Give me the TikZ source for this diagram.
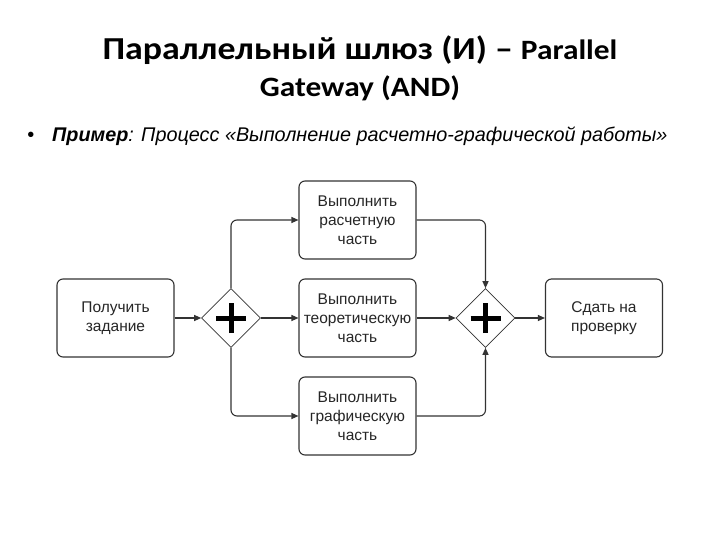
\documentclass[tikz,border=0pt]{standalone}
\usepackage{fontspec}
\setmainfont{Liberation Sans}
\newfontfamily\titlefont{Carlito}
\newfontfamily\arialfont{Liberation Sans}
\usetikzlibrary{shapes.geometric,arrows.meta,positioning}
\definecolor{linegray}{HTML}{333333}
\tikzset{
  taskbox/.style={draw=linegray, line width=1.1pt, rounded corners=6pt, minimum width=117pt, minimum height=78pt, align=center, inner sep=1pt, font=\arialfont\fontsize{15.5}{19}\selectfont, text=black!85},
  gate/.style={draw=linegray, line width=0.6pt, diamond, aspect=1, minimum size=59pt, inner sep=0pt},
  flow/.style={draw=linegray, line width=1.1pt, rounded corners=6pt, -{Triangle[length=7pt,width=6pt]}},
  plusbar/.style={line width=5pt, black},
  titletext/.style={font=\titlefont\bfseries, anchor=base, xscale=1.12, inner sep=0pt}
}
\begin{document}
\begin{tikzpicture}[x=1pt,y=-1pt]
\useasboundingbox (0,0) rectangle (720,540);
\fill[white] (0,0) rectangle (720,540);
% title
\node[titletext] (t1) at (360,60) {{\fontsize{32}{38}\selectfont Параллельный шлюз (И) – }{\fontsize{28}{34}\selectfont Parallel}};
\node[titletext] (t2) at (360,97) {\fontsize{28}{34}\selectfont Gateway (AND)};
% bullet
\node[font=\arialfont\fontsize{20}{24}\selectfont, anchor=base] (bul) at (31,142) {•};
\node[font=\arialfont\itshape\fontsize{19.8}{24}\selectfont, anchor=base west, inner sep=0pt] (sub) at (52,142) {\textbf{Пример}: Процесс «Выполнение расчетно-графической работы»};
% nodes
\node[taskbox] (get) at (115.5,318) {Получить\\задание};
\node[gate] (g1) at (231,318) {};
\node[taskbox] (calc) at (357.5,220) {Выполнить\\расчетную\\часть};
\node[taskbox] (theo) at (357.5,318) {Выполнить\\теоретическую\\часть};
\node[taskbox] (graph) at (357.5,416) {Выполнить\\графическую\\часть};
\node[gate] (g2) at (485.5,318) {};
\node[taskbox] (send) at (604,318) {Сдать на\\проверку};
% plus signs
\foreach \g in {g1,g2}{
  \draw[plusbar] ([xshift=-15pt]\g.center) -- ([xshift=15pt]\g.center);
  \draw[plusbar] ([yshift=-15pt]\g.center) -- ([yshift=15pt]\g.center);
}
% flows
\draw[flow] (get.east) -- (g1.west);
\draw[flow] (g1.north) |- (calc.west);
\draw[flow] (g1.east) -- (theo.west);
\draw[flow] (g1.south) |- (graph.west);
\draw[flow] (calc.east) -| (g2.north);
\draw[flow] (theo.east) -- (g2.west);
\draw[flow] (graph.east) -| (g2.south);
\draw[flow] (g2.east) -- (send.west);
\end{tikzpicture}
\end{document}
